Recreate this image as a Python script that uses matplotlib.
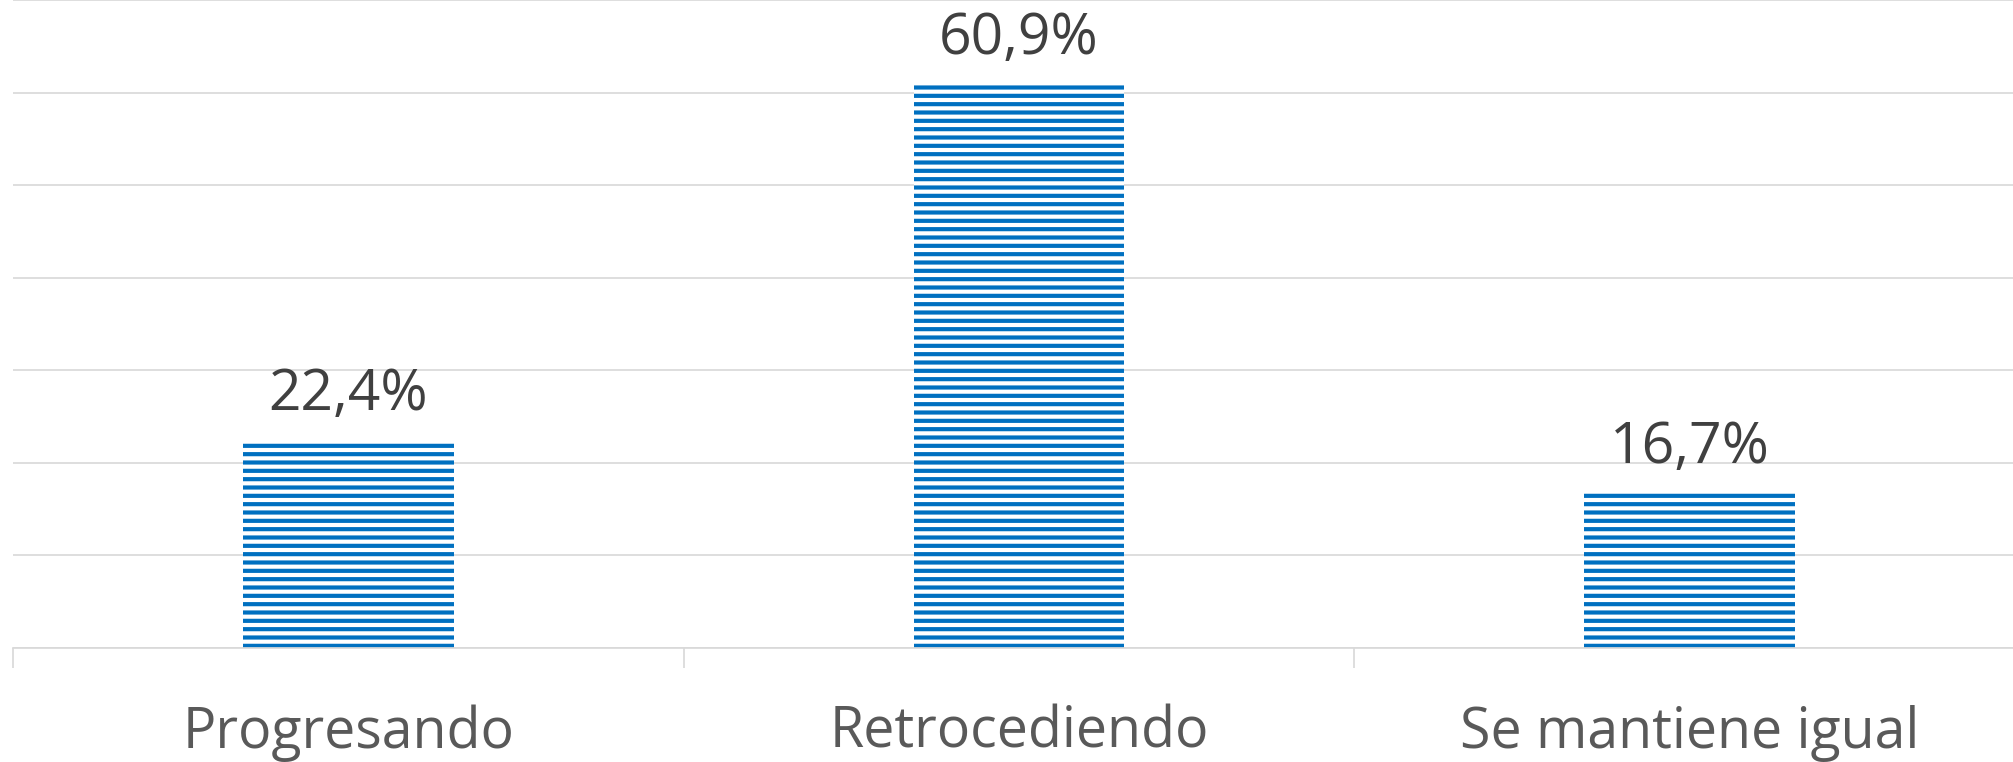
import matplotlib.pyplot as plt
import numpy as np

# data
categories = ['Progresando', 'Retrocediendo', 'Se mantiene igual']
values = [22.4, 60.9, 16.7]
value_labels = ['22,4%', '60,9%', '16,7%']

BLUE = '#0070C0'
GRID = '#d9d9d9'

plt.rcParams['font.family'] = ['Open Sans', 'DejaVu Sans']
plt.rcParams['hatch.linewidth'] = 3.0

fig = plt.figure(figsize=(20.13, 7.62), dpi=100)
ax = fig.add_axes([13 / 2013, 114 / 762, 2012 / 2013, 648 / 762])

x = np.arange(len(categories))
ax.bar(x, values, width=0.314, color='white', edgecolor=BLUE,
       linewidth=0, hatch='--', zorder=2)

for xi, v, lab in zip(x, values, value_labels):
    ax.annotate(lab, (xi, v), xytext=(0, 22), textcoords='offset points',
                ha='center', va='baseline', fontsize=41, color='#404040')

ax.set_xlim(-0.5, 2.5)
ax.set_ylim(0, 70)
ax.set_yticks(np.arange(0, 71, 10))
ax.yaxis.grid(True, color=GRID, linewidth=1.25)
ax.set_axisbelow(True)
ax.tick_params(axis='y', length=0, labelleft=False)

ax.set_xticks(x)
ax.set_xticklabels(categories, fontsize=40, color='#595959')
ax.set_xticks([-0.5, 0.5, 1.5, 2.5], minor=True)
ax.tick_params(axis='x', which='major', length=0, pad=41)
ax.tick_params(axis='x', which='minor', length=14.4, width=1.25, color=GRID)

for side in ['left', 'right', 'top']:
    ax.spines[side].set_visible(False)
ax.spines['bottom'].set_color(GRID)
ax.spines['bottom'].set_linewidth(1.25)

plt.savefig('out.png', dpi=100)
